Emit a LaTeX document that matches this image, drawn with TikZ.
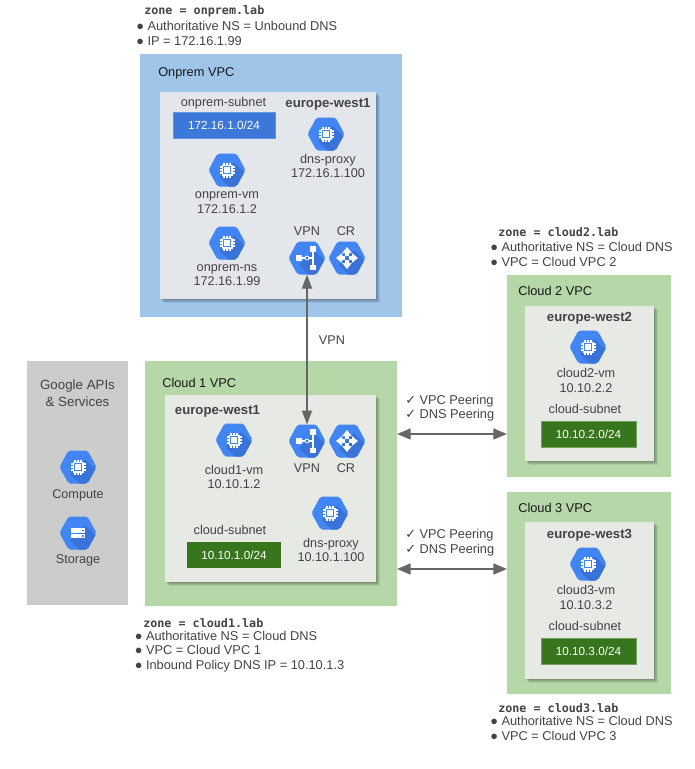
\documentclass[tikz,border=0pt]{standalone}
\usepackage{fontspec}
\setmainfont{Liberation Sans}
\setmonofont{DejaVu Sans Mono}
\newfontfamily\checkfont{DejaVu Sans}
\usetikzlibrary{arrows.meta, shadows}

\definecolor{gblue}{HTML}{4285F4}
\definecolor{gblueDark}{HTML}{3A73D8}
\definecolor{onpremBlue}{HTML}{9FC5E8}
\definecolor{cloudGreen}{HTML}{B6D7A8}
\definecolor{apiGrey}{HTML}{CCCCCC}
\definecolor{innerBlue}{HTML}{E3E6EA}
\definecolor{innerGreen}{HTML}{E7E9E4}
\definecolor{subnetBlue}{HTML}{3C78D8}
\definecolor{subnetGreen}{HTML}{38761D}
\definecolor{labelGrey}{HTML}{434343}
\definecolor{lineGrey}{HTML}{666666}

\tikzset{
  sized/.style 2 args={minimum width=#1*0.75pt, minimum height=#2*0.75pt},
  vpcbox/.style={inner sep=0pt, outer sep=0pt},
  softlayer/.style={drop shadow={shadow xshift=#1, shadow yshift=-#1, opacity=.06, fill=black}},
  regionbox/.style={vpcbox, softlayer=3pt, softlayer=2.5pt, softlayer=2pt, softlayer=1.5pt, softlayer=1pt, softlayer=.5pt},
  subnetbox/.style={vpcbox, text=white, font=\fontsize{8.8}{11}\selectfont},
  lbl/.style={inner sep=0pt, align=center, yshift=-.5pt, text=labelGrey, font=\fontsize{9.5}{10.9}\selectfont},
  title/.style={inner sep=0pt, anchor=west, text=black!90, font=\fontsize{9.6}{11}\selectfont},
  region/.style={inner sep=0pt, yshift=-1pt, text=labelGrey, font=\fontsize{9.9}{12}\selectfont\bfseries},
  zone/.style={inner sep=0pt, anchor=west, yshift=-.8pt, text=labelGrey, font=\fontsize{8.8}{11}\ttfamily\bfseries},
  notes/.style={inner sep=0pt, anchor=west, align=left, yshift=-.5pt, text=labelGrey, font=\fontsize{9.6}{11}\selectfont},
  hexslot/.style={inner sep=0pt, outer sep=0pt, sized={37}{33}},
  vpnline/.style={lineGrey, line width=1pt, {Triangle[length=10.5pt,width=7.5pt]}-{Triangle[length=10.5pt,width=7.5pt]}},
  peerline/.style={lineGrey, line width=1.4pt, {Triangle[length=10.3pt,width=8.2pt]}-{Triangle[length=10.3pt,width=8.2pt]}},
  hexbase/.pic={
    \begin{scope}
      \clip[rounded corners=1.5pt] (-18.5,0) -- (-9.5,-16.5) -- (9.5,-16.5) -- (18.5,0) -- (9.5,16.5) -- (-9.5,16.5) -- cycle;
      \fill[gblue] (-19,-17) rectangle (19,17);
      \fill[gblueDark] (-8,7) -- (7,-8) -- (37,22) -- (22,37) -- cycle;
    \end{scope}
  },
  chip/.pic={
    \foreach \t in {-3,0,3} {
      \fill[white] (\t-.6,-7.5) rectangle (\t+.6,7.5);
      \fill[white] (-7.5,\t-.6) rectangle (7.5,\t+.6);
    }
    \fill[white] (-5.5,-5.5) rectangle (5.5,5.5);
    \fill[gblue] (-4,-4) rectangle (4,4);
    \fill[white] (-2.6,-2.6) rectangle (2.6,2.6);
  },
  vpnmark/.pic={
    \fill[white] (-11,-2.7) rectangle (-5.5,2.7);
    \fill[white] (3.2,-12) rectangle (8.8,-6.5);
    \fill[white] (3.2,6.5) rectangle (8.8,12);
    \draw[white, line width=.9pt] (-5.5,0) -- (-2,0) (2,0) -- (6,0) (6,-8) -- (6,8);
    \draw[white, line width=.6pt] (0,0) circle (2);
  },
  routermark/.pic={
    \foreach \b in {-1,1} {
      \fill[white] (0,\b*11) -- (-4.8,\b*5) -- (4.8,\b*5) -- cycle;
      \fill[white] (-1.6,\b*5.5) rectangle (1.6,\b*1.6);
      \fill[white] (\b*11,0) -- (\b*5,-4.8) -- (\b*5,4.8) -- cycle;
      \fill[white] (\b*5.5,-1.6) rectangle (\b*1.6,1.6);
    }
  },
  storagemark/.pic={
    \fill[white] (-7,-4.6) rectangle (7,-.4);
    \fill[white] (-7,.8) rectangle (7,5);
    \fill[gblue] (4.2,-3.2) rectangle (5.6,-1.8);
    \fill[gblue] (4.2,2.2) rectangle (5.6,3.6);
  },
}

% Hexagon icon: name, centre, glyph
\newcommand{\hexicon}[3]{
  \node[hexslot] (#1) at (#2) {};
  \pic at (#1) {hexbase};
  \pic at (#1) {#3};
}

\begin{document}
\begin{tikzpicture}[x=0.75pt, y=-0.75pt]

\useasboundingbox (0,0) rectangle (694,769);

% VPC areas
\node[vpcbox, sized={262}{263}, fill=onpremBlue] (onpremVpc) at (271,185.5) {};
\node[vpcbox, sized={252}{245}, fill=cloudGreen] (cloudOneVpc) at (271,483.5) {};
\node[vpcbox, sized={101}{244}, fill=apiGrey] (apiArea) at (77.5,483) {};
\node[vpcbox, sized={164}{202}, fill=cloudGreen] (cloudTwoVpc) at (589,376) {};
\node[vpcbox, sized={164}{202}, fill=cloudGreen] (cloudThreeVpc) at (589,593) {};

% Regions
\node[regionbox, sized={216}{207}, fill=innerBlue] (onpremRegion) at (268,195.5) {};
\node[regionbox, sized={211}{187}, fill=innerGreen] (cloudOneRegion) at (270.5,488.5) {};
\node[regionbox, sized={129}{155}, fill=innerGreen] (cloudTwoRegion) at (589.5,383.5) {};
\node[regionbox, sized={129}{157}, fill=innerGreen] (cloudThreeRegion) at (589.5,600.5) {};

% Onprem
\node[zone] (onpremZone) at (144,10.5) {zone = onprem.lab};
\node[notes] (onpremNotes) at (136,32.5) {● Authoritative NS = Unbound DNS\\● IP = 172.16.1.99};
\node[title] (onpremTitle) at (158,73.5) {Onprem VPC};
\node[lbl] (onpremSubnetName) at (223.5,103) {onprem-subnet};
\node[region] (onpremRegionName) at (328,103) {europe-west1};
\node[subnetbox, sized={102}{26}, fill=subnetBlue, draw=subnetBlue!80!white] (onpremSubnet) at (224,125) {172.16.1.0/24};
\hexicon{onpremProxy}{326,134}{chip}
\node[lbl] (onpremProxyName) at (328,165.5) {dns-proxy\\172.16.1.100};
\hexicon{onpremVm}{227,170}{chip}
\node[lbl] (onpremVmName) at (227,202) {onprem-vm\\172.16.1.2};
\hexicon{onpremNs}{227,243}{chip}
\node[lbl] (onpremNsName) at (227,274.5) {onprem-ns\\172.16.1.99};
\node[lbl] (onpremVpnName) at (307,230.5) {VPN};
\node[lbl] (onpremCrName) at (346,230.5) {CR};
\hexicon{onpremVpn}{307,258}{vpnmark}
\hexicon{onpremCr}{347,258}{routermark}

% Google APIs
\node[lbl, font=\fontsize{10}{12.8}\selectfont] (apiName) at (77.5,392.5) {Google APIs\\\& Services};
\hexicon{apiCompute}{78,467}{chip}
\node[lbl] (apiComputeName) at (78,494.5) {Compute};
\hexicon{apiStorage}{78,533}{storagemark}
\node[lbl] (apiStorageName) at (78,560) {Storage};

% Cloud 1
\node[title] (cloudOneTitle) at (162,382.5) {Cloud 1 VPC};
\node[region] (cloudOneRegionName) at (217.5,410) {europe-west1};
\hexicon{cloudOneVm}{234,440}{chip}
\node[lbl] (cloudOneVmName) at (234,476.5) {cloud1-vm\\10.10.1.2};
\hexicon{cloudOneVpn}{307,441}{vpnmark}
\hexicon{cloudOneCr}{347,441}{routermark}
\node[lbl] (cloudOneVpnName) at (307,467.5) {VPN};
\node[lbl] (cloudOneCrName) at (346,467.5) {CR};
\hexicon{cloudOneProxy}{330,513}{chip}
\node[lbl] (cloudOneProxyName) at (331,549.5) {dns-proxy\\10.10.1.100};
\node[lbl] (cloudOneSubnetName) at (230,529) {cloud-subnet};
\node[subnetbox, sized={94}{26}, fill=subnetGreen] (cloudOneSubnet) at (234,555) {10.10.1.0/24};
\node[zone] (cloudOneZone) at (143,622) {zone = cloud1.lab};
\node[notes] (cloudOneNotes) at (134.5,651) {● Authoritative NS = Cloud DNS\\● VPC = Cloud VPC 1\\● Inbound Policy DNS IP = 10.10.1.3};

% Cloud 2
\node[zone] (cloudTwoZone) at (498,231.5) {zone = cloud2.lab};
\node[notes] (cloudTwoNotes) at (490,253.5) {● Authoritative NS = Cloud DNS\\● VPC = Cloud VPC 2};
\node[title] (cloudTwoTitle) at (518,291) {Cloud 2 VPC};
\node[region] (cloudTwoRegionName) at (589.5,317) {europe-west2};
\hexicon{cloudTwoVm}{588,347}{chip}
\node[lbl] (cloudTwoVmName) at (586,380) {cloud2-vm\\10.10.2.2};
\node[lbl] (cloudTwoSubnetName) at (585,408) {cloud-subnet};
\node[subnetbox, sized={95}{26}, fill=subnetGreen, draw=subnetGreen!70!white] (cloudTwoSubnet) at (588.5,434) {10.10.2.0/24};

% Cloud 3
\node[title] (cloudThreeTitle) at (518,508) {Cloud 3 VPC};
\node[region] (cloudThreeRegionName) at (589.5,534) {europe-west3};
\hexicon{cloudThreeVm}{588,564}{chip}
\node[lbl] (cloudThreeVmName) at (586,597) {cloud3-vm\\10.10.3.2};
\node[lbl] (cloudThreeSubnetName) at (585,625) {cloud-subnet};
\node[subnetbox, sized={95}{26}, fill=subnetGreen, draw=subnetGreen!70!white] (cloudThreeSubnet) at (588.5,651.5) {10.10.3.0/24};
\node[zone] (cloudThreeZone) at (498,707) {zone = cloud3.lab};
\node[notes] (cloudThreeNotes) at (490,728) {● Authoritative NS = Cloud DNS\\● VPC = Cloud VPC 3};

% Links
\draw[vpnline] (onpremVpn.south) -- (cloudOneVpn.north);
\node[lbl] (vpnName) at (332,339.5) {VPN};

\coordinate (peerTwo) at (0,434);
\coordinate (peerThree) at (0,569);
\draw[peerline] (cloudOneVpc.east |- peerTwo) -- (cloudTwoVpc.west |- peerTwo);
\draw[peerline] (cloudOneVpc.east |- peerThree) -- (cloudThreeVpc.west |- peerThree);
\node[notes] (peerTwoName) at (405,407.5) {{\checkfont ✓} VPC Peering\\{\checkfont ✓} DNS Peering};
\node[notes] (peerThreeName) at (405,542) {{\checkfont ✓} VPC Peering\\{\checkfont ✓} DNS Peering};

\end{tikzpicture}
\end{document}
